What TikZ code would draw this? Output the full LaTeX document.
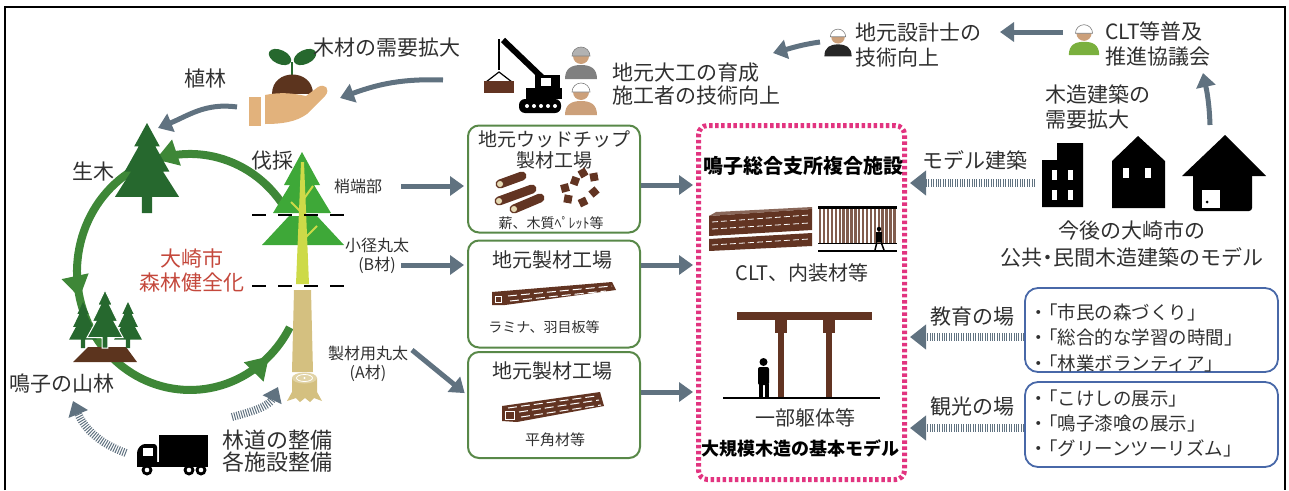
\documentclass[tikz,border=0pt]{standalone}
\usepackage{fontspec}
\setmainfont{Noto Sans CJK JP}
\usetikzlibrary{arrows.meta,decorations.markings}

\definecolor{arrowgray}{RGB}{96,114,128}
\definecolor{cyclegreen}{RGB}{62,135,55}
\definecolor{firdark}{RGB}{38,104,46}
\definecolor{firlight}{RGB}{62,168,56}
\definecolor{trunkgreen}{RGB}{205,218,72}
\definecolor{trunktan}{RGB}{212,192,128}
\definecolor{wood}{RGB}{98,52,34}
\definecolor{soil}{RGB}{92,52,30}
\definecolor{palm}{RGB}{226,178,124}
\definecolor{skin}{RGB}{204,160,122}
\definecolor{vest}{RGB}{122,176,62}
\definecolor{facilitypink}{RGB}{226,52,128}
\definecolor{millgreen}{RGB}{88,136,72}
\definecolor{eventblue}{RGB}{72,104,168}
\definecolor{ink}{RGB}{48,48,48}
\definecolor{cityred}{RGB}{196,72,60}

% tiered fir: apex, width, height, fill options
\newcommand\fir[4]{%
  \fill[#4,shift={#1},xscale=#2,yscale=#3] (0,0) -- (0.2,0.26) -- (0.13,0.26) -- (0.35,0.54) -- (0.25,0.54)
    -- (0.5,0.82) -- (0.08,0.82) -- (0.08,1) -- (-0.08,1) -- (-0.08,0.82) -- (-0.5,0.82) -- (-0.25,0.54)
    -- (-0.35,0.54) -- (-0.13,0.26) -- (-0.2,0.26) -- cycle;}

% worker bust: centre, scale, body colour, helmet colour
\newcommand\worker[4]{%
  \begin{scope}[shift={#1},scale=#2]
    \fill[#3] (-16,18) .. controls (-16,7) and (-9,4) .. (0,4) .. controls (9,4) and (16,7) .. (16,18) -- cycle;
    \fill[skin] (0,-5) circle[radius=8];
    \filldraw[fill=#4,draw=gray,line width=0.6pt] (-9,-5) arc[start angle=180,end angle=360,radius=9] -- cycle;
  \end{scope}}

% list bullet with opening bracket set close
\newcommand\itm{・\kern-0.45em「}
\newcommand\mdot{\kern-0.25em・\kern-0.25em}

\begin{document}
\begin{tikzpicture}[x=1pt,y=-1pt,font=\fontsize{21}{25}\selectfont,text=ink,every node/.style={inner sep=0pt}]
  \tikzstyle{garrow}=[arrowgray,line width=5pt,-{Triangle[length=14pt,width=19pt]}]
  \tikzstyle{hatched}=[arrowgray,line width=8pt,dash pattern=on 1pt off 1.4pt,-{Triangle[length=16pt,width=24pt]}]
  \tikzstyle{mill}=[draw=millgreen,line width=2pt,rounded corners=11pt,minimum width=172,minimum height=107]
  \tikzstyle{events}=[draw=eventblue,line width=1.8pt,rounded corners=13pt,minimum width=253,minimum height=84]
  \tikzstyle{small}=[font=\fontsize{16}{19}\selectfont]
  \tikzstyle{grain}=[white,line width=1pt,dash pattern=on 9pt off 4pt]

  \useasboundingbox (0,0) rectangle (1289,490);
  \draw[line width=1.5pt] (5,490) -- (5,7) -- (1285,7) -- (1285,490);

  % forest cycle
  \draw[cyclegreen,line width=8pt,
    postaction={decorate,decoration={markings,
      mark=at position 0.24 with {\arrow{Triangle[length=22pt,width=26pt]}},
      mark=at position 0.53 with {\arrow{Triangle[length=22pt,width=26pt]}},
      mark=at position 0.94 with {\arrow{Triangle[length=22pt,width=26pt]}}}}]
    (281.4,202.6) arc[start angle=-36,end angle=-332,x radius=113,y radius=118];

  \fir{(147,123)}{64}{90}{firdark}
  \node (living) at (93,172) {生木};

  \fill[soil] (73,362) -- (88,347) -- (126,347) -- (137,362) -- cycle;
  \fir{(83,302)}{28}{46}{firdark}
  \fir{(128,302)}{28}{46}{firdark}
  \fir{(105,290)}{36}{58}{firdark,draw=white,line width=1pt}
  \node (mountain) at (62,384) {鳴子の山林};

  \node[text=cityred,align=center,font=\fontsize{21}{24}\selectfont] (city) at (192,270) {大崎市\\森林健全化};

  % felled tree
  \fill[firlight] (302,152) -- (320,185) -- (314,185) -- (331,213) -- (273,213) -- (290,185) -- (284,185) -- cycle;
  \fill[firlight] (289,216) -- (317,216) -- (344,245) -- (262,245) -- cycle;
  \fill[trunkgreen] (301,162) -- (304,162) -- (309,284) -- (296,284) -- cycle;
  \draw[trunkgreen,line width=2pt] (303,200) -- (313,186) (301,212) -- (291,202) (305,238) -- (317,226);
  \fill[trunktan] (294,290) -- (311,290) -- (313,372) -- (292,372) -- cycle;
  \fill[trunktan] (292,378) -- (292,392) -- (287,401) -- (296,398) -- (300,402) -- (305,398) -- (310,402)
    -- (314,398) -- (322,401) -- (317,392) -- (317,378) -- cycle;
  \fill[trunktan!70!white] (304.5,378) ellipse[x radius=12.5,y radius=5.5];
  \draw[white,line width=0.8pt] (304.5,378) ellipse[x radius=8,y radius=3.5];
  \fill[white] (304.5,378) circle[radius=1.2];
  \draw[line width=2.5pt,dash pattern=on 14pt off 12pt] (252,215) -- (352,215);
  \draw[line width=2.5pt,dash pattern=on 14pt off 12pt] (252,286) -- (352,286);
  \node (felling) at (272,161) {伐採};

  \node[small] (tip) at (358,186) {梢端部};
  \node[small,align=center] (smalllog) at (377,256) {小径丸太\\(B材)};
  \node[small,align=center] (sawlog) at (368,364) {製材用丸太\\(A材)};

  % seedling in hand
  \fill[firdark,rotate around={-25:(280,57)}] (280,57) ellipse[x radius=12,y radius=7];
  \fill[firdark,rotate around={25:(305,57)}] (305,57) ellipse[x radius=12,y radius=7];
  \draw[firdark,line width=2.5pt] (292,76) -- (292,62);
  \fill[soil] (272,94) .. controls (272,68) and (313,68) .. (313,94) -- cycle;
  \fill[palm] (249,97) rectangle (261,126);
  \fill[palm] (265,95) .. controls (280,92) and (292,93) .. (306,96) -- (318,87) .. controls (325,83) and (331,89) .. (325,96)
    -- (307,114) .. controls (296,122) and (282,124) .. (265,124) -- cycle;
  \node (planting) at (205,79) {植林};
  \node (demand) at (387,48) {木材の需要拡大};

  % crane with timber
  \draw[line width=6pt] (503,40) -- (551,86);
  \draw[line width=1.5pt] (499,39) -- (499,70);
  \draw[line width=1.2pt] (486,82) -- (499,72) -- (512,82);
  \fill[wood] (484,81) rectangle (514,93);
  \fill (535,98) -- (535,75) -- (560,75) -- (560,98) -- cycle;
  \fill[white] (541,78) rectangle (551,86);
  \fill (526,88) rectangle (562,99);
  \fill[rounded corners=6pt] (519,99) rectangle (561,113);
  \foreach \i in {0,...,4} \fill[white] (527+7*\i,106) circle[radius=2];

  \worker{(581,61)}{1}{gray}{gray!60}
  \worker{(581,97)}{1}{skin}{white}
  \worker{(838,41)}{0.85}{black!85}{white}
  \worker{(1084,38)}{0.95}{vest}{white}

  \node[anchor=west,align=left,font=\fontsize{21}{23}\selectfont] (builders) at (612,84) {地元大工の育成\\施工者の技術向上};
  \node[anchor=west,align=left,font=\fontsize{21}{25}\selectfont] (designers) at (855,45) {地元設計士の\\技術向上};
  \node[anchor=west,align=left,font=\fontsize{21}{25}\selectfont] (council) at (1105,44) {CLT等普及\\推進協議会};

  \coordinate (woodfrom) at (443,80);
  \coordinate (handto) at (340,98);
  \coordinate (handfrom) at (237,107);
  \coordinate (livingto) at (158,128);
  \coordinate (designfrom) at (820,42);
  \coordinate (builderto) at (773,53);
  \coordinate (councilfrom) at (1063,32);
  \coordinate (designto) at (1000,32);
  \coordinate (housefrom) at (1210,125);
  \coordinate (councilto) at (1203,73);
  \draw[garrow] (woodfrom) to[out=178,in=20] (handto);
  \draw[garrow] (handfrom) to[out=172,in=22] (livingto);
  \draw[garrow] (designfrom) to[out=188,in=15] (builderto);
  \draw[garrow] (councilfrom) -- (designto);
  \draw[garrow] (housefrom) to[out=92,in=-78] (councilto);

  % mills
  \node[mill] (chipmill) at (554,179) {};
  \node[align=center,font=\fontsize{19}{21}\selectfont] (chiptitle) at (554,150) {地元ウッドチップ\\製材工場};
  \foreach \ax/\ay/\bx/\by in {500/184/522/176, 499/201/532/189, 514/209/540/198} {
    \draw[wood,line width=9pt,line cap=round] (\ax,\ay) -- (\bx,\by);
    \filldraw[fill=trunktan!60!white,draw=wood,line width=0.8pt] (\ax,\ay) circle[radius=3.6];
  }
  \foreach \cx/\cy/\r in {565/188/15, 575/181/-20, 583/173/30, 594/177/10, 568/199/-10, 583/202/25, 594/192/40}
    \fill[wood,rotate around={\r:(\cx,\cy)}] (\cx-4,\cy-4) rectangle (\cx+4,\cy+4);
  \node[font=\fontsize{14}{16}\selectfont] (chiplabel) at (551,223) {薪、木質ﾍﾟﾚｯﾄ等};

  \node[mill] (sawmill) at (554,294) {};
  \node[font=\fontsize{20}{22}\selectfont] (sawtitle) at (552,260) {地元製材工場};
  \fill[wood] (492,292) -- (612,282) -- (616,290) -- (505,305) -- (492,305) -- cycle;
  \draw[grain] (508,296) -- (612,286);
  \draw[grain] (510,301) -- (606,291);
  \draw[white,line width=0.8pt] (495,296) rectangle (501,302);
  \node[font=\fontsize{14}{16}\selectfont] (sawlabel) at (544,327) {ラミナ、羽目板等};

  \node[mill,minimum height=106] (beammill) at (554,405) {};
  \node[font=\fontsize{20}{22}\selectfont] (beamtitle) at (552,371) {地元製材工場};
  \fill[wood] (502,406) -- (600,392) -- (604,406) -- (517,422) -- (502,421) -- cycle;
  \draw[grain] (519,412) -- (599,400);
  \draw[grain] (521,417) -- (601,405);
  \draw[grain] (508,408) -- (596,396);
  \draw[white,line width=0.8pt] (505,411) rectangle (514,419);
  \node[font=\fontsize{15}{17}\selectfont] (beamlabel) at (555,440) {平角材等};

  % facility
  \node[draw=facilitypink,line width=5pt,dash pattern=on 3.5pt off 2.6pt,rounded corners=9pt,
    minimum width=206,minimum height=354] (facility) at (801.5,302.5) {};
  \node[font=\bfseries\fontsize{20}{22}\selectfont,text=black] (facilityname) at (803,166) {鳴子総合支所複合施設};
  \fill[wood!75!white] (709,216) -- (716,212) -- (812,207) -- (812,209) -- cycle;
  \fill[wood] (709,216) -- (812,209) -- (812,230) -- (709,236) -- cycle;
  \fill[wood] (709,239) -- (812,233) -- (812,246) -- (709,251) -- cycle;
  \draw[white,line width=0.8pt,dash pattern=on 6pt off 3pt] (712,222) -- (809,215) (712,229) -- (809,223) (712,245) -- (809,239);
  \fill (818,206) rectangle (897,209);
  \foreach \i in {0,...,19} \fill[wood!80] (819+3.9*\i,209) rectangle +(2.4,34);
  \draw[line width=0.8pt] (818,243) -- (897,243);
  \draw[line width=2pt] (818,251) -- (897,251);
  \fill (879,229) circle[radius=2.2];
  \fill (876,232) rectangle (882,242);
  \draw[line width=1.5pt] (877,242) -- (875,250) (881,242) -- (884,250);
  \node[font=\fontsize{20}{22}\selectfont] (clt) at (802,273) {CLT、内装材等};

  \fill[wood] (737,312) rectangle (872,320);
  \fill[wood] (775,320) rectangle (787,333);
  \fill[wood] (823,320) rectangle (835,333);
  \fill[wood] (778,333) rectangle (784,398);
  \fill[wood] (826,333) rectangle (832,398);
  \draw[line width=2pt] (723,398) -- (880,398);
  \fill (763.5,362) circle[radius=4];
  \fill[rounded corners=2pt] (758,367) rectangle (769,385);
  \fill (759,384) rectangle (763,397);
  \fill (764.5,384) rectangle (768.5,397);
  \node[font=\fontsize{20}{22}\selectfont] (frame) at (805,418) {一部躯体等};
  \node[font=\bfseries\fontsize{18}{20}\selectfont,text=black] (basemodel) at (800,448) {大規模木造の基本モデル};

  % flows into the mills and the facility
  \coordinate (bfrom) at (401,265);
  \coordinate (afrom) at (412,350);
  \draw[garrow,shorten <=19pt,shorten >=3pt] (tip.east) -- (tip.east -| chipmill.west);
  \draw[garrow,shorten >=3pt] (bfrom) -- (bfrom -| sawmill.west);
  \draw[garrow,shorten >=3pt] (afrom) -- ([yshift=10pt]beammill.west);
  \path ([yshift=-6pt]chipmill.east) coordinate (chipout);
  \path ([yshift=29pt]sawmill.east) coordinate (sawout);
  \path ([yshift=13pt]beammill.east) coordinate (beamout);
  \draw[garrow,shorten >=3pt] (chipout) -- (chipout -| facility.west);
  \draw[garrow,shorten >=3pt] (sawout) -- (sawout -| facility.west);
  \draw[garrow,shorten >=3pt] (beamout) -- (beamout -| facility.west);

  % buildings
  \fill (1042,160) -- (1057,160) -- (1057,143) -- (1083,143) -- (1083,207) -- (1042,207) -- cycle;
  \foreach \wx in {1052,1068} \foreach \wy in {170,190} \fill[white] (\wx,\wy) rectangle +(5,10);
  \fill (1112,161) -- (1138,136) -- (1165,161) -- (1165,208) -- (1112,208) -- cycle;
  \fill[white] (1123,168) rectangle +(6,10);
  \fill[white] (1145,168) rectangle +(6,10);
  \fill[rounded corners=3pt] (1193,170) rectangle (1252,211);
  \fill (1182,176) -- (1225,135) -- (1266,176) -- cycle;
  \fill[white] (1202,190) rectangle (1220,208);
  \fill (1207,202) circle[radius=1.5];
  \node[anchor=west,align=left] (demand2) at (1045,107) {木造建築の\\需要拡大};
  \node (model) at (975,160) {モデル建築};
  \node[align=center,font=\fontsize{21}{27}\selectfont] (future) at (1132,244) {今後の大崎市の\\公共\mdot 民間木造建築のモデル};

  % events
  \node[events] (edubox) at (1151.5,330) {};
  \node[anchor=west,align=left,font=\fontsize{18.5}{25.5}\selectfont] (edulist) at (1029,337.5) {\itm 市民の森づくり」\\\itm 総合的な学習の時間」\\\itm 林業ボランティア」};
  \node[events,minimum height=85] (tourbox) at (1151.5,424.5) {};
  \node[anchor=west,align=left,font=\fontsize{18.5}{25}\selectfont] (tourlist) at (1029,423) {\itm こけしの展示」\\\itm 鳴子漆喰の展示」\\\itm グリーンツーリズム」};
  \node (edu) at (972,317) {教育の場};
  \node (tour) at (972,407) {観光の場};

  \coordinate (modelfrom) at (1035,183);
  \path ([yshift=-7pt]edubox.west) coordinate (edufrom);
  \path ([yshift=-3.5pt]tourbox.west) coordinate (tourfrom);
  \draw[hatched,shorten >=3pt] (modelfrom) -- (modelfrom -| facility.east);
  \draw[hatched,shorten >=3pt] (edufrom) -- (edufrom -| facility.east);
  \draw[hatched,shorten >=3pt] (tourfrom) -- (tourfrom -| facility.east);

  % truck and roads
  \fill[rounded corners=3pt] (137,466) -- (137,450) -- (142,444) -- (157,444) -- (157,466) -- cycle;
  \fill[white] (143,448) rectangle (153,456);
  \fill (159,435) rectangle (208,462);
  \fill (137,462) rectangle (208,467);
  \foreach \wx in {147,189,201} {\fill (\wx,470) circle[radius=5.5]; \fill[white] (\wx,470) circle[radius=2.3];}
  \node[anchor=west,align=left,font=\fontsize{22}{22}\selectfont] (roads) at (222,451) {林道の整備\\各施設整備};
  \coordinate (truckleft) at (126,453);
  \coordinate (mountainto) at (73,401);
  \coordinate (roadsfrom) at (232,417);
  \coordinate (stumpto) at (278,387);
  \draw[hatched,-{Triangle[length=14pt,width=20pt]}] (truckleft) to[out=160,in=-68] (mountainto);
  \draw[hatched,-{Triangle[length=14pt,width=20pt]}] (roadsfrom) to[out=15,in=-115] (stumpto);
\end{tikzpicture}
\end{document}
